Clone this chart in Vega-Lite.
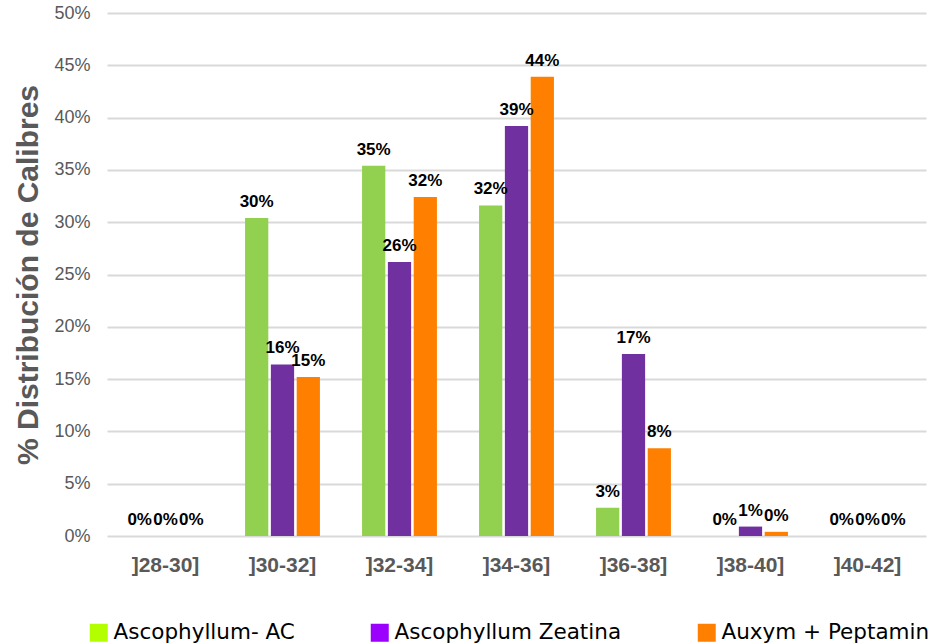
{
  "$schema": "https://vega.github.io/schema/vega-lite/v6.json",
  "autosize": "none",
  "width": 819,
  "height": 523,
  "padding": {"left": 107, "top": 13, "right": 6, "bottom": 107},
  "background": "white",
  "config": {"view": {"stroke": null}},
  "data": {
    "values": [
      {"calibre": "]28-30]", "serie": "Ascophyllum- AC", "valor": 0},
      {"calibre": "]28-30]", "serie": "Ascophyllum Zeatina", "valor": 0},
      {"calibre": "]28-30]", "serie": "Auxym + Peptamin", "valor": 0},
      {"calibre": "]30-32]", "serie": "Ascophyllum- AC", "valor": 0.304},
      {"calibre": "]30-32]", "serie": "Ascophyllum Zeatina", "valor": 0.164},
      {"calibre": "]30-32]", "serie": "Auxym + Peptamin", "valor": 0.152},
      {"calibre": "]32-34]", "serie": "Ascophyllum- AC", "valor": 0.354},
      {"calibre": "]32-34]", "serie": "Ascophyllum Zeatina", "valor": 0.262},
      {"calibre": "]32-34]", "serie": "Auxym + Peptamin", "valor": 0.324},
      {"calibre": "]34-36]", "serie": "Ascophyllum- AC", "valor": 0.316},
      {"calibre": "]34-36]", "serie": "Ascophyllum Zeatina", "valor": 0.392},
      {"calibre": "]34-36]", "serie": "Auxym + Peptamin", "valor": 0.439},
      {"calibre": "]36-38]", "serie": "Ascophyllum- AC", "valor": 0.027},
      {"calibre": "]36-38]", "serie": "Ascophyllum Zeatina", "valor": 0.174},
      {"calibre": "]36-38]", "serie": "Auxym + Peptamin", "valor": 0.084},
      {"calibre": "]38-40]", "serie": "Ascophyllum- AC", "valor": 0},
      {"calibre": "]38-40]", "serie": "Ascophyllum Zeatina", "valor": 0.009},
      {"calibre": "]38-40]", "serie": "Auxym + Peptamin", "valor": 0.004},
      {"calibre": "]40-42]", "serie": "Ascophyllum- AC", "valor": 0},
      {"calibre": "]40-42]", "serie": "Ascophyllum Zeatina", "valor": 0},
      {"calibre": "]40-42]", "serie": "Auxym + Peptamin", "valor": 0}
    ]
  },
  "encoding": {
    "x": {
      "field": "calibre",
      "type": "nominal",
      "sort": null,
      "scale": {"paddingInner": 0.36, "paddingOuter": 0.18},
      "axis": {
        "title": null,
        "labelAngle": 0,
        "labelFont": "Liberation Sans",
        "labelFontSize": 21,
        "labelFontWeight": "bold",
        "labelColor": "#595959",
        "labelPadding": 18,
        "ticks": false,
        "domain": false,
        "grid": false
      }
    },
    "xOffset": {
      "field": "serie",
      "type": "nominal",
      "sort": ["Ascophyllum- AC", "Ascophyllum Zeatina", "Auxym + Peptamin"],
      "scale": {"paddingInner": 0.1}
    },
    "y": {
      "field": "valor",
      "type": "quantitative",
      "scale": {"domain": [0, 0.5], "nice": false},
      "axis": {
        "title": "% Distribución de Calibres",
        "titleFont": "Liberation Sans",
        "titleFontSize": 30,
        "titleFontWeight": "bold",
        "titleColor": "#595959",
        "titlePadding": 10,
        "format": ".0%",
        "values": [0, 0.05, 0.1, 0.15, 0.2, 0.25, 0.3, 0.35, 0.4, 0.45, 0.5],
        "labelFont": "Liberation Sans",
        "labelFontSize": 18,
        "labelColor": "#595959",
        "labelPadding": 17,
        "ticks": false,
        "domain": false,
        "grid": true,
        "gridColor": "#D9D9D9",
        "gridWidth": 2
      }
    }
  },
  "resolve": {"scale": {"color": "independent", "fill": "independent"}, "legend": {"color": "independent", "fill": "independent"}},
  "layer": [
    {
      "mark": {"type": "bar"},
      "encoding": {
        "fill": {
          "field": "serie",
          "type": "nominal",
          "scale": {
            "domain": ["Ascophyllum- AC", "Ascophyllum Zeatina", "Auxym + Peptamin"],
            "range": ["#92D050", "#7030A0", "#FF8000"]
          },
          "legend": null
        }
      }
    },
    {
      "mark": {"type": "bar", "strokeWidth": 0},
      "encoding": {
        "y": {"datum": 0},
        "color": {
          "field": "serie",
          "type": "nominal",
          "scale": {
            "domain": ["Ascophyllum- AC", "Ascophyllum Zeatina", "Auxym + Peptamin"],
            "range": ["#B3FF00", "#9B00FF", "#FF8000"]
          },
          "legend": {
            "orient": "none",
            "legendX": -19,
            "legendY": 609,
            "direction": "horizontal",
            "columns": 3,
            "gridAlign": "none",
            "columnPadding": 74,
            "title": null,
            "symbolType": "square",
            "symbolSize": 324,
            "symbolStrokeWidth": 0,
            "symbolOpacity": 1,
            "labelFont": "DejaVu Sans",
            "labelFontSize": 21.5,
            "labelColor": "#000000",
            "labelOffset": 4,
            "labelLimit": 400
          }
        }
      }
    },
    {
      "mark": {
        "type": "text",
        "baseline": "bottom",
        "dy": -7,
        "font": "Liberation Sans",
        "fontSize": 17,
        "fontWeight": "bold",
        "color": "#000000"
      },
      "encoding": {
        "text": {"field": "valor", "type": "quantitative", "format": ".0%"}
      }
    }
  ]
}
